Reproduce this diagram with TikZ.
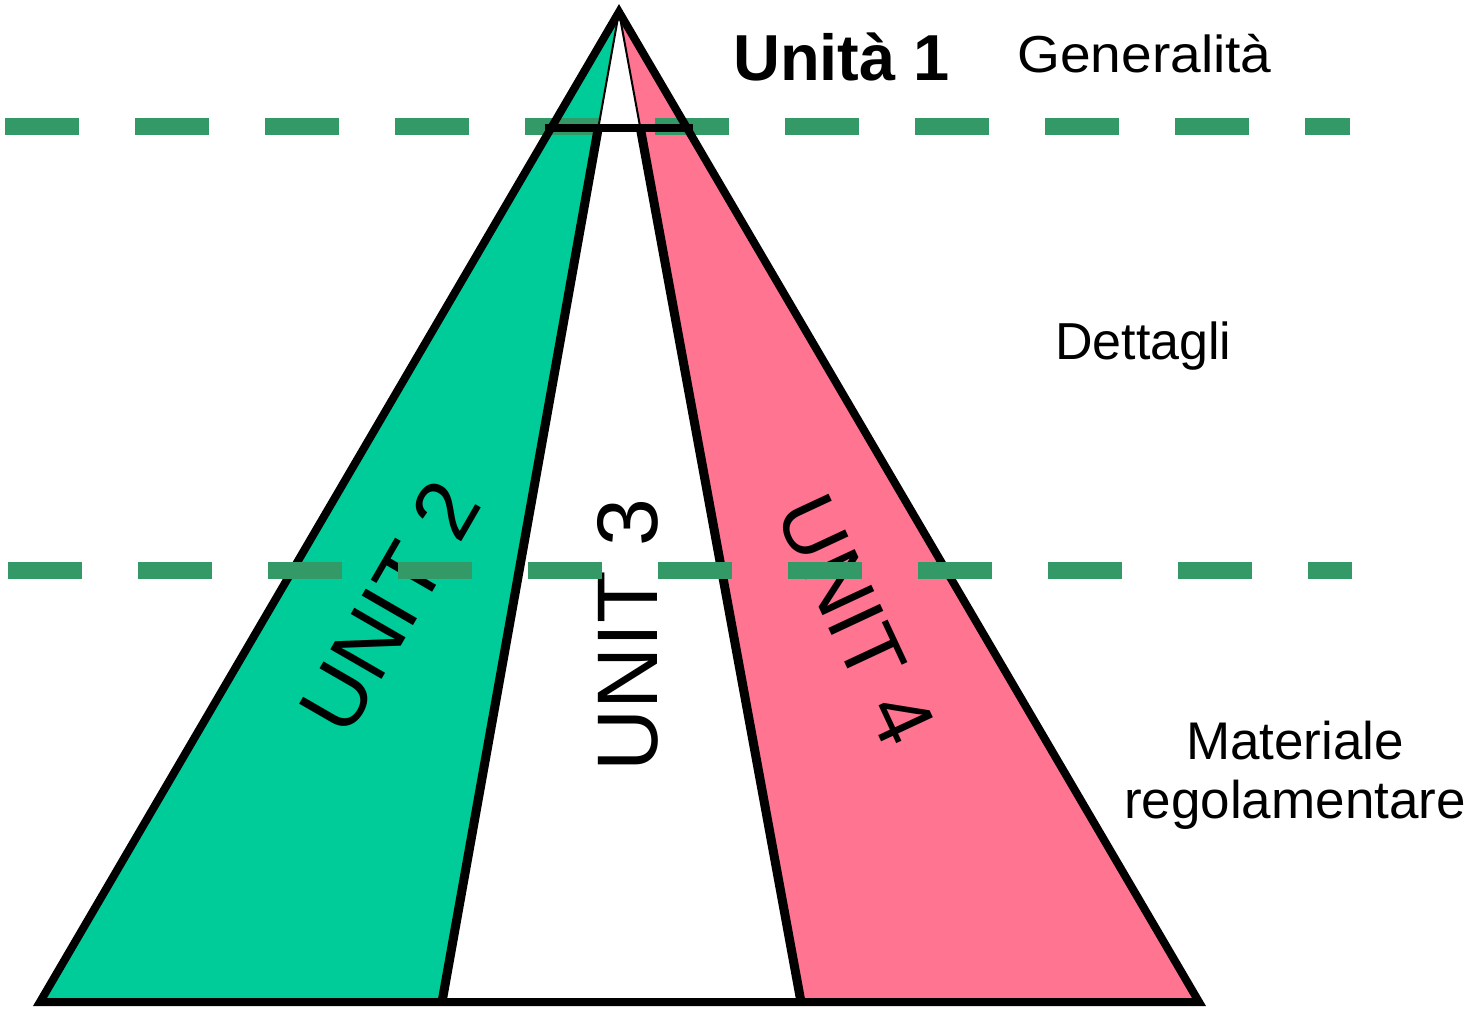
\documentclass[tikz,border=0pt]{standalone}
\usepackage{fontspec}
\usetikzlibrary{calc}
\setmainfont{Liberation Sans}
\definecolor{unitgreen}{HTML}{00CC99}
\definecolor{unitpink}{HTML}{FF7591}
\definecolor{dashgreen}{HTML}{339966}
\tikzset{
  outline/.style={draw=black,line width=8bp,line join=miter},
  thinline/.style={draw=black,line width=2bp},
  levelline/.style={draw=dashgreen,line width=17bp,dash pattern=on 74bp off 56bp},
  unitlabel/.style={font=\fontsize{86bp}{100bp}\selectfont,inner sep=0pt},
  sidelabel/.style={font=\fontsize{52bp}{59bp}\selectfont,inner sep=0pt},
}
\begin{document}
\begin{tikzpicture}[x=1bp,y=-1bp]
\useasboundingbox (0,0) rectangle (1474,1009);
% key points
\coordinate (apex) at (619,12);
\coordinate (bl) at (40,1002);
\coordinate (br) at (1199,1002);
\coordinate (il) at (442,1002);
\coordinate (ir) at (801,1002);
\coordinate (el) at ($(apex)!0.11717!(bl)$);
\coordinate (er) at ($(apex)!0.11717!(br)$);
\coordinate (ml) at ($(apex)!0.11717!(il)$);
\coordinate (mr) at ($(apex)!0.11717!(ir)$);
% fills
\fill[unitgreen] (apex) -- (bl) -- (il) -- cycle;
\fill[unitpink] (apex) -- (ir) -- (br) -- cycle;
% upper level line (behind the outlines)
\draw[levelline] (5,126) coordinate (t0) -- (1350,126) coordinate (t1);
% dividers
\draw[thinline] (apex) -- (ml);
\draw[thinline] (apex) -- (mr);
\draw[outline,line width=9bp] (ml) -- (il);
\draw[outline,line width=9bp] (mr) -- (ir);
% outer triangle and top cut
\draw[outline] (apex) -- (bl) -- (br) -- cycle;
\draw[outline,shorten <=-6bp,shorten >=-6bp] (el) -- (er);
% unit labels
\node[unitlabel,rotate=60] (u2) at (390,607) {UNIT 2};
\node[unitlabel,rotate=90] (u3) at (628,635) {UNIT 3};
\node[unitlabel,rotate=-65,font=\fontsize{83bp}{100bp}\selectfont] (u4) at (856,620) {UNIT 4};
% lower level line (over everything)
\draw[levelline] (8,570) coordinate (b0) -- (1352,570) coordinate (b1);
% side texts
\node[anchor=base west,inner sep=0pt,font=\fontsize{65bp}{70bp}\selectfont\bfseries] (un1) at (733,80) {Unità 1};
\node[anchor=base west,inner sep=0pt,xscale=1.06,font=\fontsize{52bp}{60bp}\selectfont] (gen) at (1017,72) {Generalità};
\node[sidelabel,anchor=base west] (det) at (1055,359) {Dettagli};
\node[sidelabel,anchor=base,align=center,font=\fontsize{53bp}{59bp}\selectfont] (mat) at (1295,818) {Materiale\\regolamentare};
\end{tikzpicture}
\end{document}
